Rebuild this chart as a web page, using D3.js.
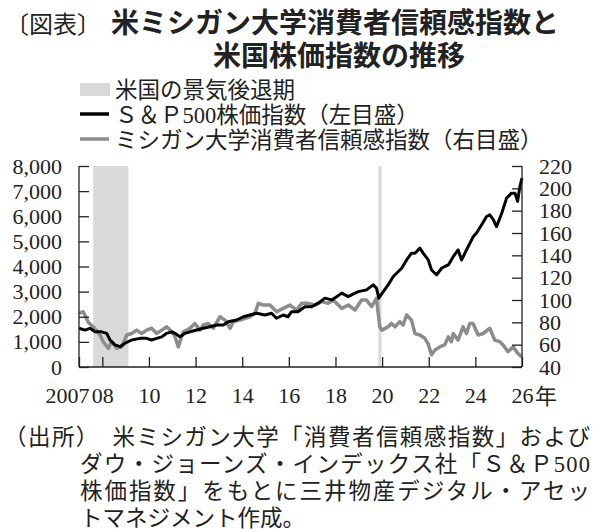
<!DOCTYPE html>
<html lang="ja">
<head>
<meta charset="UTF-8">
<title>米ミシガン大学消費者信頼感指数と米国株価指数の推移</title>
<script src="https://d3js.org/d3.v7.min.js"></script>
<style>
    body { margin: 0; background: #fff; }
    svg { display: block; }
    .jp { font-family: "Liberation Serif", "Noto Sans CJK JP", serif; fill: #222; }
    .axis text { font-family: "Liberation Serif", serif; font-size: 22px; fill: #222; }
    .axis path, .axis line { stroke: #222; stroke-width: 1.3; }
</style>
</head>
<body>
<svg id="chart" width="600" height="532"></svg>
<script>
// S&P500 (left axis), position in years as drawn
const spYears = [2007.00, 2007.26, 2007.47, 2007.69, 2007.97, 2008.19, 2008.33, 2008.54, 2008.76, 2008.97,
    2009.26, 2009.62, 2009.90, 2010.12, 2010.33, 2010.55, 2010.76, 2010.98, 2011.12, 2011.33,
    2011.55, 2011.76, 2012.05, 2012.33, 2012.62, 2012.90, 2013.19, 2013.40, 2013.76, 2014.05,
    2014.33, 2014.62, 2014.98, 2015.26, 2015.47, 2015.76, 2015.96, 2016.12, 2016.39, 2016.69,
    2016.98, 2017.26, 2017.55, 2017.84, 2018.05, 2018.27, 2018.55, 2018.75, 2018.98, 2019.33,
    2019.62, 2019.76, 2019.86, 2020.05, 2020.26, 2020.48, 2020.62, 2020.84, 2021.05, 2021.26,
    2021.41, 2021.62, 2021.76, 2021.98, 2022.12, 2022.34, 2022.55, 2022.69, 2022.84, 2023.05,
    2023.26, 2023.41, 2023.62, 2023.91, 2024.05, 2024.27, 2024.48, 2024.62, 2024.77, 2024.91,
    2025.13, 2025.34, 2025.55, 2025.70, 2025.81, 2025.91, 2026.00];
const spValues = [1540, 1470, 1540, 1400, 1400, 1340, 1075, 880, 810, 945,
    1075, 1140, 1140, 1075, 1140, 1200, 1340, 1400, 1340, 1200,
    1340, 1400, 1470, 1540, 1600, 1670, 1670, 1800, 1870, 2000,
    2070, 2140, 2070, 2140, 1940, 2070, 2000, 2200, 2200, 2400,
    2400, 2540, 2740, 2670, 2800, 2940, 2800, 2900, 3000, 3070,
    3270, 3140, 2740, 3000, 3270, 3600, 3730, 3930, 4260, 4530,
    4530, 4730, 4530, 4260, 3860, 3670, 3930, 4000, 4060, 4390,
    4660, 4260, 4660, 5190, 5330, 5660, 5990, 6060, 5860, 5590,
    6120, 6720, 6920, 6920, 6590, 7180, 7520];

// Michigan consumer sentiment (right axis)
const csiYears = [2007.00, 2007.18, 2007.40, 2007.61, 2007.90, 2008.04, 2008.26, 2008.40, 2008.62, 2008.83,
    2009.05, 2009.26, 2009.47, 2009.69, 2009.90, 2010.12, 2010.33, 2010.55, 2010.76, 2010.98,
    2011.12, 2011.26, 2011.47, 2011.76, 2011.97, 2012.19, 2012.33, 2012.54, 2012.76, 2013.05,
    2013.26, 2013.48, 2013.62, 2013.90, 2014.33, 2014.55, 2014.69, 2014.90, 2015.19, 2015.48,
    2015.76, 2016.05, 2016.33, 2016.55, 2016.83, 2017.12, 2017.41, 2017.69, 2017.90, 2018.27,
    2018.55, 2018.84, 2019.12, 2019.33, 2019.55, 2019.76, 2019.90, 2020.00, 2020.26, 2020.40,
    2020.55, 2020.76, 2020.90, 2021.05, 2021.26, 2021.41, 2021.62, 2021.83, 2021.97, 2022.12,
    2022.26, 2022.48, 2022.69, 2022.84, 2022.97, 2023.05, 2023.26, 2023.47, 2023.62, 2023.76,
    2023.90, 2024.12, 2024.33, 2024.62, 2024.83, 2025.05, 2025.19, 2025.40, 2025.62, 2025.83, 2025.98];
const csiValues = [88, 89.5, 80, 76, 68.7, 62.6, 56.7, 62.6, 56.7, 58,
    68.7, 70, 73, 70, 73, 74.7, 70, 73, 76, 71.6,
    67, 58, 71.6, 74.7, 79, 73, 77.6, 79, 74.7, 85,
    82, 74.7, 80.6, 82, 85, 88, 97, 95.5, 95.5, 89.5,
    92.5, 95.5, 91, 97, 97, 95.5, 98.5, 97, 100, 92.5,
    95.5, 91, 100, 100, 94, 101.5, 76, 73, 76, 79,
    76, 80.6, 77.6, 86.6, 82, 70, 68.7, 65.7, 61, 51,
    55, 58, 60, 67, 62.6, 70, 64, 76, 70, 79,
    79, 68.7, 70, 74.7, 64, 62.6, 59.7, 53.7, 58, 52, 49];

// recession periods as drawn
const recessionStart = [2007.61, 2019.84];
const recessionEnd = [2009.12, 2019.97];

const leftTicks = [0, 1000, 2000, 3000, 4000, 5000, 6000, 7000, 8000];
const rightTicks = [40, 60, 80, 100, 120, 140, 160, 180, 200, 220];
const xTicks = [2007, 2008, 2010, 2012, 2014, 2016, 2018, 2020, 2022, 2024, 2026];

const svg = d3.select("#chart");
const margin = { top: 166, right: 78, bottom: 165, left: 79 };
const W = +svg.attr("width"), H = +svg.attr("height");
const plotW = W - margin.left - margin.right;
const plotH = H - margin.top - margin.bottom;

const x = d3.scaleLinear().domain([2007, 2026]).range([0, plotW]);
const yL = d3.scaleLinear().domain([0, 8000]).range([plotH, 0]);
const yR = d3.scaleLinear().domain([40, 220]).range([plotH, 0]);

// title
const title = svg.append("text").attr("class", "jp").attr("y", 33);
title.append("tspan").attr("x", 5).style("font-size", "24px").text("〔図表〕");
title.append("tspan").attr("x", 111).style("font-size", "28px").style("font-weight", "bold")
    .style("font-family", "'Noto Sans CJK JP', sans-serif").text("米ミシガン大学消費者信頼感指数と");
svg.append("text").attr("class", "jp").attr("x", 213).attr("y", 66)
    .style("font-size", "28px").style("font-weight", "bold")
    .style("font-family", "'Noto Sans CJK JP', sans-serif").text("米国株価指数の推移");

// legend
const legend = svg.append("g");
legend.append("rect").attr("x", 80).attr("y", 83).attr("width", 30).attr("height", 13).attr("fill", "#d9d9d9");
legend.append("line").attr("x1", 80).attr("x2", 109).attr("y1", 114).attr("y2", 114)
    .attr("stroke", "#000").attr("stroke-width", 3.5);
legend.append("line").attr("x1", 80).attr("x2", 109).attr("y1", 139).attr("y2", 139)
    .attr("stroke", "#8c8c8c").attr("stroke-width", 3.5);
const legendLabels = ["米国の景気後退期", "Ｓ＆Ｐ500株価指数（左目盛）", "ミシガン大学消費者信頼感指数（右目盛）"];
legend.selectAll("text.lg").data(legendLabels).join("text")
    .attr("class", "jp lg")
    .attr("x", 115)
    .attr("y", (d, i) => 98 + i * 25)
    .style("font-size", "22.5px")
    .text(d => d);

const g = svg.append("g").attr("transform", `translate(${margin.left},${margin.top})`);

// recession shading
g.selectAll("rect.rec").data(recessionStart).join("rect")
    .attr("class", "rec")
    .attr("x", (d, i) => x(d))
    .attr("width", (d, i) => x(recessionEnd[i]) - x(d))
    .attr("y", 0)
    .attr("height", plotH)
    .attr("fill", "#d9d9d9");

// lines
const csiLine = d3.line().x((d, i) => x(csiYears[i])).y(d => yR(d));
const spLine = d3.line().x((d, i) => x(spYears[i])).y(d => yL(d));

g.append("path").datum(csiValues)
    .attr("fill", "none").attr("stroke", "#8c8c8c").attr("stroke-width", 3.5)
    .attr("stroke-linejoin", "round").attr("d", csiLine);
g.append("path").datum(spValues)
    .attr("fill", "none").attr("stroke", "#000").attr("stroke-width", 3)
    .attr("stroke-linejoin", "round").attr("d", spLine);

// axes
g.append("g").attr("class", "axis")
    .call(d3.axisLeft(yL).tickValues(leftTicks).tickSize(-10).tickPadding(17)
        .tickFormat(d3.format(",")))
    .call(a => a.select(".domain").attr("d", `M0,0V${plotH}`));

g.append("g").attr("class", "axis").attr("transform", `translate(${plotW},0)`)
    .call(d3.axisRight(yR).tickValues(rightTicks).tickSize(-10).tickPadding(17))
    .call(a => a.select(".domain").attr("d", `M0,0V${plotH}`));

const xAxis = g.append("g").attr("class", "axis").attr("transform", `translate(0,${plotH})`)
    .call(d3.axisBottom(x).tickValues(xTicks).tickSize(-10).tickPadding(20)
        .tickFormat(d => d === 2007 ? "2007" : String(d).slice(2)))
    .call(a => a.select(".domain").attr("d", `M0,0H${plotW}`));
xAxis.selectAll(".tick").filter(d => d === 2007)
    .select("text").attr("text-anchor", "end").attr("x", 10);

g.append("text").attr("class", "jp")
    .attr("x", plotW + 13).attr("y", plotH + 37)
    .style("font-size", "22px").text("年");

// source note
const notes = [
    { text: "（出所）　米ミシガン大学「消費者信頼感指数」および", x: 4, len: 586 },
    { text: "ダウ・ジョーンズ・インデックス社「Ｓ＆Ｐ500", x: 80, len: 510 },
    { text: "株価指数」をもとに三井物産デジタル・アセッ", x: 80, len: 510 },
    { text: "トマネジメント作成。", x: 80, len: null }
];
notes.forEach((n, i) => {
    const t = svg.append("text").attr("class", "jp")
        .attr("x", n.x).attr("y", 445 + i * 27)
        .style("font-size", "22.5px").text(n.text);
    if (n.len) t.attr("textLength", n.len).attr("lengthAdjust", "spacing");
});
</script>
</body>
</html>
